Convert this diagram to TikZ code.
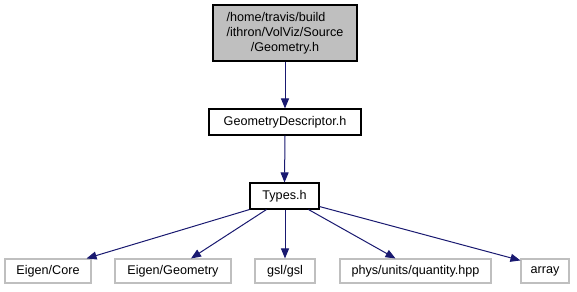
\documentclass[tikz,border=0pt]{standalone}
\usepackage{fontspec}
\setmainfont{Liberation Sans}
\usetikzlibrary{arrows.meta}
\definecolor{edgeblue}{HTML}{191970}
\definecolor{boxgray}{HTML}{BFBFBF}
\definecolor{extgray}{HTML}{BFBFBF}
\tikzset{
  file/.style={draw=black, line width=1.1bp, fill=white, inner sep=0pt,
    font=\fontsize{12.6bp}{15bp}\selectfont, align=center},
  current/.style={file, fill=boxgray},
  external/.style={file, draw=extgray, minimum height=24bp},
  dep/.style={draw=edgeblue, line width=1bp,
    -{Triangle[length=10bp,width=8bp]}},
}
\begin{document}
\begin{tikzpicture}[x=1bp, y=-1bp]
  \useasboundingbox (0,0) rectangle (577,291);
  % header under analysis and its direct include
  \node[current, minimum width=144bp, minimum height=56bp] (geom) at (285,33)
    {\begin{tabular}{@{}l@{}}/home/travis/build\\/ithron/VolViz/Source\\
     \multicolumn{1}{@{}c@{}}{/Geometry.h}\end{tabular}};
  \node[file, minimum width=152bp, minimum height=26bp] (desc) at (285,122)
    {GeometryDescriptor.h};
  \node[file, minimum width=69bp, minimum height=26bp] (types) at (284.5,196)
    {Types.h};
  % external headers
  \node[external, minimum width=86bp] (core) at (48,271) {Eigen/Core};
  \node[external, minimum width=116bp] (egeo) at (173,271) {Eigen/Geometry};
  \node[external, minimum width=60bp] (gsl) at (285,271) {gsl/gsl};
  \node[external, minimum width=151bp] (phys) at (415.5,271) {phys/units/quantity.hpp};
  \node[external, minimum width=48bp] (arr) at (545,271) {array};
  % include edges
  \draw[dep] (geom.south) -- (desc.north);
  \draw[dep] (desc.south) -- (types.north);
  \draw[dep] (types.south west) -- ([xshift=-5bp]core.north east);
  \draw[dep] ([xshift=17bp]types.south west) -- ([xshift=18bp]egeo.north);
  \draw[dep] (gsl.north |- types.south) -- (gsl.north);
  \draw[dep] ([xshift=-11bp]types.south east) -- ([xshift=-20bp]phys.north);
  \draw[dep] ([yshift=3bp]types.south east) -- ([yshift=-2bp]arr.north west);
\end{tikzpicture}
\end{document}
